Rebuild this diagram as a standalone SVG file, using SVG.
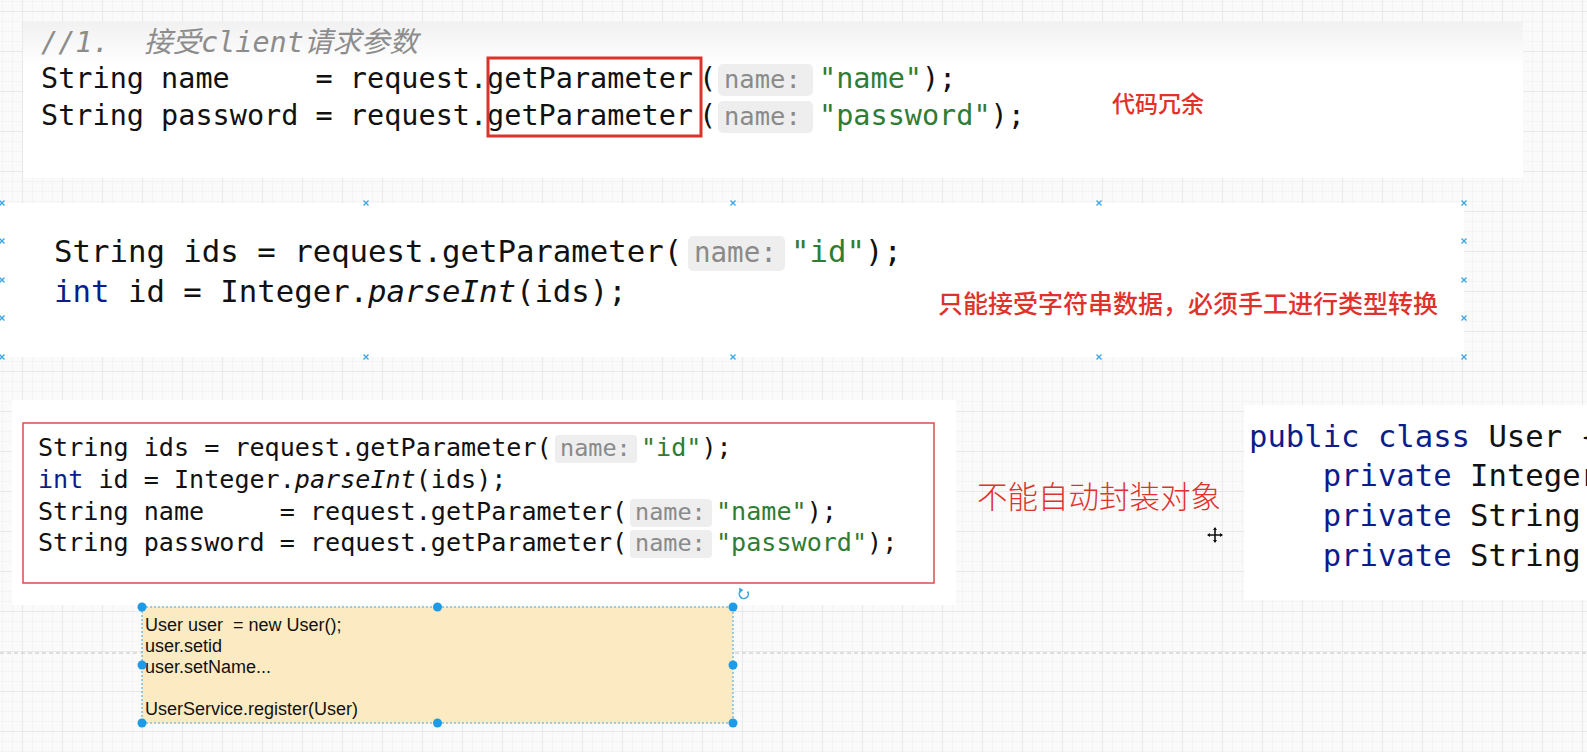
<svg xmlns="http://www.w3.org/2000/svg" width="1587" height="752" viewBox="0 0 1587 752">
<defs>
<pattern id="gridMinor" patternUnits="userSpaceOnUse" x="3" y="2" width="10" height="10">
<path d="M10 0 V10 M0 10 H10" fill="none" stroke="#eeeeee" stroke-width="1"/>
</pattern>
<pattern id="gridMajor" patternUnits="userSpaceOnUse" x="23" y="12" width="40" height="40">
<path d="M40 0 V40 M0 40 H40" fill="none" stroke="#dedede" stroke-width="1"/>
</pattern>
<linearGradient id="topShade" x1="0" y1="0" x2="0" y2="1">
<stop offset="0" stop-color="#f1f1f1"/>
<stop offset="0.28" stop-color="#ffffff"/>
<stop offset="1" stop-color="#ffffff"/>
</linearGradient>
<g id="xmark"><path d="M-2.5 -2.5 L2.5 2.5 M2.5 -2.5 L-2.5 2.5" stroke="#3aa6e0" stroke-width="1.3" fill="none"/></g>
<style>
.code{font-family:"DejaVu Sans Mono","Liberation Mono",monospace;fill:#111111;}
.kw{fill:#0b1d8a;}
.str{fill:#2f7d32;}
.it{font-style:italic;}
.hint{font-family:"DejaVu Sans Mono","Liberation Mono",monospace;fill:#8a8a8a;}
.hintbg{fill:#eeeeee;}
.cmt{font-family:"DejaVu Sans Mono","Noto Sans CJK SC",monospace;fill:#8c8c8c;font-style:italic;}
.note{font-family:"Noto Sans CJK SC","Noto Sans",sans-serif;fill:#e0322b;}
.handle{fill:#1e9be6;}
.yellowtxt{font-family:"Liberation Sans",Arial,sans-serif;font-size:18px;fill:#111111;}
</style>
</defs>

<g id="background">
<rect x="0" y="0" width="1587" height="752" fill="#fafafa"/>
<rect x="0" y="0" width="1587" height="752" fill="url(#gridMinor)"/>
<rect x="0" y="0" width="1587" height="752" fill="url(#gridMajor)"/>
<line x1="0" y1="653" x2="1587" y2="653" stroke="#c4c4c4" stroke-width="1" stroke-dasharray="4 3"/>
</g>

<g id="connectors"></g>

<g id="panel1">
<rect x="23" y="22" width="1500" height="156" fill="url(#topShade)"/>
<text class="cmt" x="41" y="52" font-size="28.5" xml:space="preserve">//1.  接受client请求参数</text>
<text class="code" x="41" y="88" font-size="28.5" xml:space="preserve">String name     = request.getParameter</text>
<text class="code" x="699" y="88" font-size="28.5">(</text>
<rect class="hintbg" x="718" y="64" width="95" height="32" rx="5"/>
<text class="hint" x="724" y="88" font-size="25.5">name:</text>
<text class="code" x="819" y="88" font-size="28.5"><tspan class="str">"name"</tspan>);</text>
<text class="code" x="41" y="125" font-size="28.5" xml:space="preserve">String password = request.getParameter</text>
<text class="code" x="699" y="125" font-size="28.5">(</text>
<rect class="hintbg" x="718" y="101" width="95" height="32" rx="5"/>
<text class="hint" x="724" y="125" font-size="25.5">name:</text>
<text class="code" x="819" y="125" font-size="28.5"><tspan class="str">"password"</tspan>);</text>
<rect x="488" y="58" width="213" height="78" fill="none" stroke="#d9342b" stroke-width="3"/>
<text class="note" x="1112" y="112" font-size="23" font-weight="500">代码冗余</text>
</g>

<g id="panel2">
<rect x="0" y="203" width="1464" height="154" fill="#ffffff"/>
<text class="code" x="54" y="262" font-size="30.7" xml:space="preserve">String ids = request.getParameter(</text>
<rect class="hintbg" x="688" y="236" width="97" height="35" rx="5"/>
<text class="hint" x="694" y="262" font-size="27.5">name:</text>
<text class="code" x="791" y="262" font-size="30.7"><tspan class="str">"id"</tspan>);</text>
<text class="code" x="54" y="302" font-size="30.7" xml:space="preserve"><tspan class="kw">int</tspan> id = Integer.<tspan class="it">parseInt</tspan>(ids);</text>
<text class="note" x="938" y="313" font-size="25" font-weight="500">只能接受字符串数据，必须手工进行类型转换</text>
<use href="#xmark" x="2" y="203"/><use href="#xmark" x="366" y="203"/><use href="#xmark" x="733" y="203"/><use href="#xmark" x="1099" y="203"/><use href="#xmark" x="1464" y="203"/>
<use href="#xmark" x="2" y="241"/><use href="#xmark" x="2" y="280"/><use href="#xmark" x="2" y="318"/>
<use href="#xmark" x="1464" y="241"/><use href="#xmark" x="1464" y="280"/><use href="#xmark" x="1464" y="318"/>
<use href="#xmark" x="2" y="357"/><use href="#xmark" x="366" y="357"/><use href="#xmark" x="733" y="357"/><use href="#xmark" x="1099" y="357"/><use href="#xmark" x="1464" y="357"/>
</g>

<g id="panel3">
<rect x="12" y="400" width="944" height="205" fill="#ffffff"/>
<rect x="23" y="423" width="911" height="160" fill="none" stroke="#d4504a" stroke-width="1.5"/>
<text class="code" x="38" y="456" font-size="25.1" xml:space="preserve">String ids = request.getParameter(</text>
<rect class="hintbg" x="555" y="435" width="82" height="28" rx="4"/>
<text class="hint" x="560" y="456" font-size="23.5">name:</text>
<text class="code" x="641" y="456" font-size="25.1"><tspan class="str">"id"</tspan>);</text>
<text class="code" x="38" y="488" font-size="25.1" xml:space="preserve"><tspan class="kw">int</tspan> id = Integer.<tspan class="it">parseInt</tspan>(ids);</text>
<text class="code" x="38" y="520" font-size="25.1" xml:space="preserve">String name     = request.getParameter(</text>
<rect class="hintbg" x="630" y="499" width="82" height="28" rx="4"/>
<text class="hint" x="635" y="520" font-size="23.5">name:</text>
<text class="code" x="716" y="520" font-size="25.1"><tspan class="str">"name"</tspan>);</text>
<text class="code" x="38" y="551" font-size="25.1" xml:space="preserve">String password = request.getParameter(</text>
<rect class="hintbg" x="630" y="530" width="82" height="28" rx="4"/>
<text class="hint" x="635" y="551" font-size="23.5">name:</text>
<text class="code" x="716" y="551" font-size="25.1"><tspan class="str">"password"</tspan>);</text>
</g>

<g id="label-no-auto">
<text class="note" x="977" y="508" font-size="30.5" font-weight="300">不能自动封装对象</text>
</g>

<g id="panel4">
<rect x="1244" y="405" width="343" height="195" fill="#ffffff"/>
<text class="code" x="1249" y="447" font-size="30.6" xml:space="preserve"><tspan class="kw">public class</tspan> User {</text>
<text class="code" x="1249" y="486" font-size="30.6" xml:space="preserve">    <tspan class="kw">private</tspan> Integer</text>
<text class="code" x="1249" y="526" font-size="30.6" xml:space="preserve">    <tspan class="kw">private</tspan> String</text>
<text class="code" x="1249" y="566" font-size="30.6" xml:space="preserve">    <tspan class="kw">private</tspan> String</text>
</g>

<g id="cursor">
<path d="M1215 528 V542 M1208 535 H1222" stroke="#111111" stroke-width="1.6"/>
<path d="M1215 527 l-2 3 h4 z M1215 543 l-2 -3 h4 z M1207 535 l3 -2 v4 z M1223 535 l-3 -2 v4 z" fill="#111111"/>
</g>

<g id="yellow-note">
<rect x="142" y="607" width="591" height="116" fill="#fcebc2" stroke="#3aa6e0" stroke-width="1" stroke-dasharray="2 2"/>
<text class="yellowtxt" x="145" y="631" xml:space="preserve">User user  = new User();</text>
<text class="yellowtxt" x="145" y="652">user.setid</text>
<text class="yellowtxt" x="145" y="673">user.setName...</text>
<text class="yellowtxt" x="145" y="715">UserService.register(User)</text>
<circle class="handle" cx="142" cy="607" r="4.5"/><circle class="handle" cx="437.5" cy="607" r="4.5"/><circle class="handle" cx="733" cy="607" r="4.5"/>
<circle class="handle" cx="142" cy="665" r="4.5"/><circle class="handle" cx="733" cy="665" r="4.5"/>
<circle class="handle" cx="142" cy="723" r="4.5"/><circle class="handle" cx="437.5" cy="723" r="4.5"/><circle class="handle" cx="733" cy="723" r="4.5"/>
<path d="M747.5 591.5 A4.5 4.5 0 1 1 741 590.5" fill="none" stroke="#3aa6e0" stroke-width="1.6"/>
<path d="M739 587.5 L743.5 590 L739.5 593 Z" fill="#3aa6e0"/>
</g>
</svg>
